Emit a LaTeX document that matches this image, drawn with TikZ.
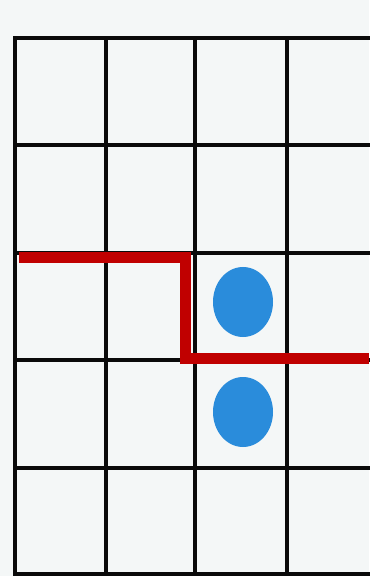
\documentclass[tikz,border=0pt]{standalone}
\definecolor{paper}{HTML}{F4F7F7}
\definecolor{gridblack}{HTML}{0A0A0A}
\definecolor{pathred}{HTML}{C00000}
\definecolor{dotblue}{HTML}{2A8CDB}
\tikzset{
  gridline/.style={draw=gridblack, line width=2pt, line cap=rect},
  redpath/.style={draw=pathred, line width=5.5pt, line join=miter},
  dot/.style={ellipse, fill=dotblue, minimum width=30pt, minimum height=35pt, inner sep=0pt}
}
\usetikzlibrary{shapes.geometric}
\begin{document}
\begin{tikzpicture}[x=0.5pt, y=-0.5pt]
\useasboundingbox (0,0) rectangle (369,576);
\fill[paper] (0,0) rectangle (369,576);
% grid
\foreach \xx in {15,106,195,287} {
  \draw[gridline] (\xx,38) -- (\xx,574);
}
\foreach \yy in {38,145,253,360,468,574} {
  \draw[gridline] (15,\yy) -- (369,\yy);
}
% dots
\node[dot] (d1) at (243,302) {};
\node[dot] (d2) at (243,412) {};
% red path
\coordinate (r1) at (19,258);
\coordinate (r2) at (185,258);
\coordinate (r3) at (185,358);
\coordinate (r4) at (369,358);
\draw[redpath] (r1) -- (r2) -- (r3) -- (r4);
\end{tikzpicture}
\end{document}
